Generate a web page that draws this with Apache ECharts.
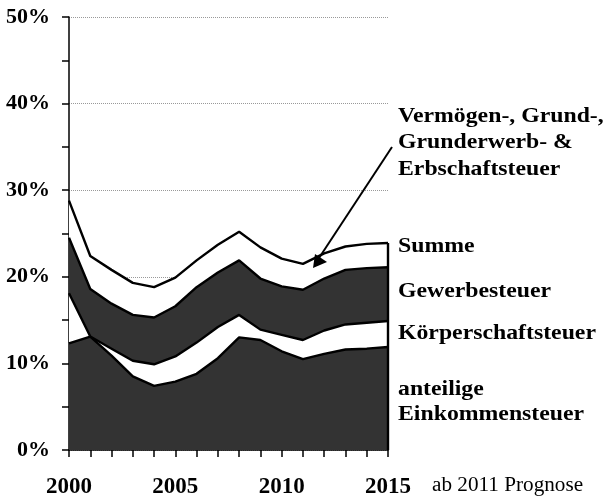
<!DOCTYPE html>
<html>
<head>
<meta charset="utf-8">
<script src="https://cdn.jsdelivr.net/npm/echarts@6/dist/echarts.min.js"></script>
<style>html,body{margin:0;padding:0;background:#fff}#c{width:607px;height:499px}</style>
</head>
<body>
<div id="c"></div>
<script>
const years = ['2000','2001','2002','2003','2004','2005','2006','2007','2008','2009','2010','2011','2012','2013','2014','2015'];
const einkommen    = [12.3,13.1,10.9,8.5,7.4,7.9,8.8,10.6,13.0,12.7,11.4,10.5,11.1,11.6,11.7,11.9];
const koerperschaft= [5.8,0.0,0.8,1.8,2.5,2.9,3.6,3.6,2.6,1.2,1.9,2.2,2.7,2.9,3.0,3.0];
const gewerbe      = [6.4,5.5,5.2,5.3,5.4,5.8,6.4,6.3,6.3,5.9,5.6,5.8,6.0,6.3,6.3,6.2];
const vermoegen    = [4.3,3.8,3.9,3.7,3.5,3.3,3.1,3.2,3.3,3.6,3.2,3.0,2.9,2.7,2.8,2.8];
const yTicks = [0,10,20,30,40,50];
const labels = {
  vermoegen: ['Vermögen-, Grund-,','Grunderwerb- &','Erbschaftsteuer'],
  summe: 'Summe', gewerbe: 'Gewerbesteuer', koerperschaft: 'Körperschaftsteuer',
  einkommen: ['anteilige','Einkommensteuer'], note: 'ab 2011 Prognose'
};

const summe = years.map((_, i) => einkommen[i] + koerperschaft[i] + gewerbe[i] + vermoegen[i]);
const last = years.length - 1;
const FONT = 'Liberation Serif';
const DARK = '#333333';

function areaSeries(name, data, fill) {
  return {
    name, type: 'line', stack: 'total', data, symbol: 'none', smooth: false,
    lineStyle: { color: '#000', width: 2.4 },
    areaStyle: { color: fill, opacity: 1 },
    z: 2
  };
}

function txt(x, baseline, text, size, bold, sx) {
  return { type: 'text', x: x, y: baseline - size * 0.86, scaleX: sx, scaleY: 1,
    style: { text, x: 0, y: 0, fill: '#000', font: (bold ? 'bold ' : '') + size + 'px "' + FONT + '"' } };
}

const chart = echarts.init(document.getElementById('c'), null, { renderer: 'canvas' });
chart.setOption({
  animation: false,
  backgroundColor: '#fff',
  grid: { left: 69, right: 219, top: 17, bottom: 46 },
  xAxis: {
    type: 'category', data: years, boundaryGap: false,
    axisLine: { lineStyle: { color: '#000', width: 1.5 } },
    axisTick: { interval: 0, length: 7, lineStyle: { color: '#000', width: 1.5 } },
    axisLabel: { interval: 4, margin: 26, color: '#000', fontFamily: FONT, fontWeight: 'bold', fontSize: 23 },
    splitLine: { show: false }
  },
  yAxis: {
    type: 'value', min: yTicks[0], max: yTicks[yTicks.length - 1], interval: 10,
    axisLine: { show: true, lineStyle: { color: '#000', width: 1.5 } },
    axisTick: { show: true, length: 7, lineStyle: { color: '#000', width: 1.5 } },
    minorTick: { show: true, splitNumber: 2, length: 7, lineStyle: { color: '#000', width: 1.5 } },
    axisLabel: { margin: 19, color: '#000', fontFamily: FONT, fontWeight: 'bold', fontSize: 22, formatter: v => v + '%' },
    splitLine: { show: true, lineStyle: { color: '#999', width: 1, type: [1, 1] } }
  },
  series: [
    areaSeries('anteilige Einkommensteuer', einkommen, DARK),
    areaSeries('Körperschaftsteuer', koerperschaft, '#fff'),
    areaSeries('Gewerbesteuer', gewerbe, DARK),
    areaSeries('Vermögen-, Grund-, Grunderwerb- & Erbschaftsteuer', vermoegen, '#fff'),
    {
      name: 'edge', type: 'line', symbol: 'none',
      data: [[years[last], 0], [years[last], summe[last]]],
      lineStyle: { color: '#000', width: 2.4 }, z: 3
    }
  ],
  graphic: [
    txt(398, 124, labels.vermoegen[0], 22, true, 1.08),
    txt(398, 150.5, labels.vermoegen[1], 22, true, 1.08),
    txt(398, 177, labels.vermoegen[2], 22, true, 1.08),
    txt(398, 254, labels.summe, 22, true, 1.08),
    txt(398, 299, labels.gewerbe, 22, true, 1.08),
    txt(398, 341.5, labels.koerperschaft, 22, true, 1.08),
    txt(398, 397, labels.einkommen[0], 22, true, 1.08),
    txt(398, 422, labels.einkommen[1], 22, true, 1.08),
    txt(432, 493, labels.note, 20, false, 1.06),
    { type: 'line', shape: { x1: 392, y1: 147, x2: 319, y2: 258 }, style: { stroke: '#000', lineWidth: 2 }, z: 10 },
    { type: 'polygon', shape: { points: [[313, 268], [315, 254], [327, 262]] }, style: { fill: '#000' }, z: 10 }
  ]
});
</script>
</body>
</html>
